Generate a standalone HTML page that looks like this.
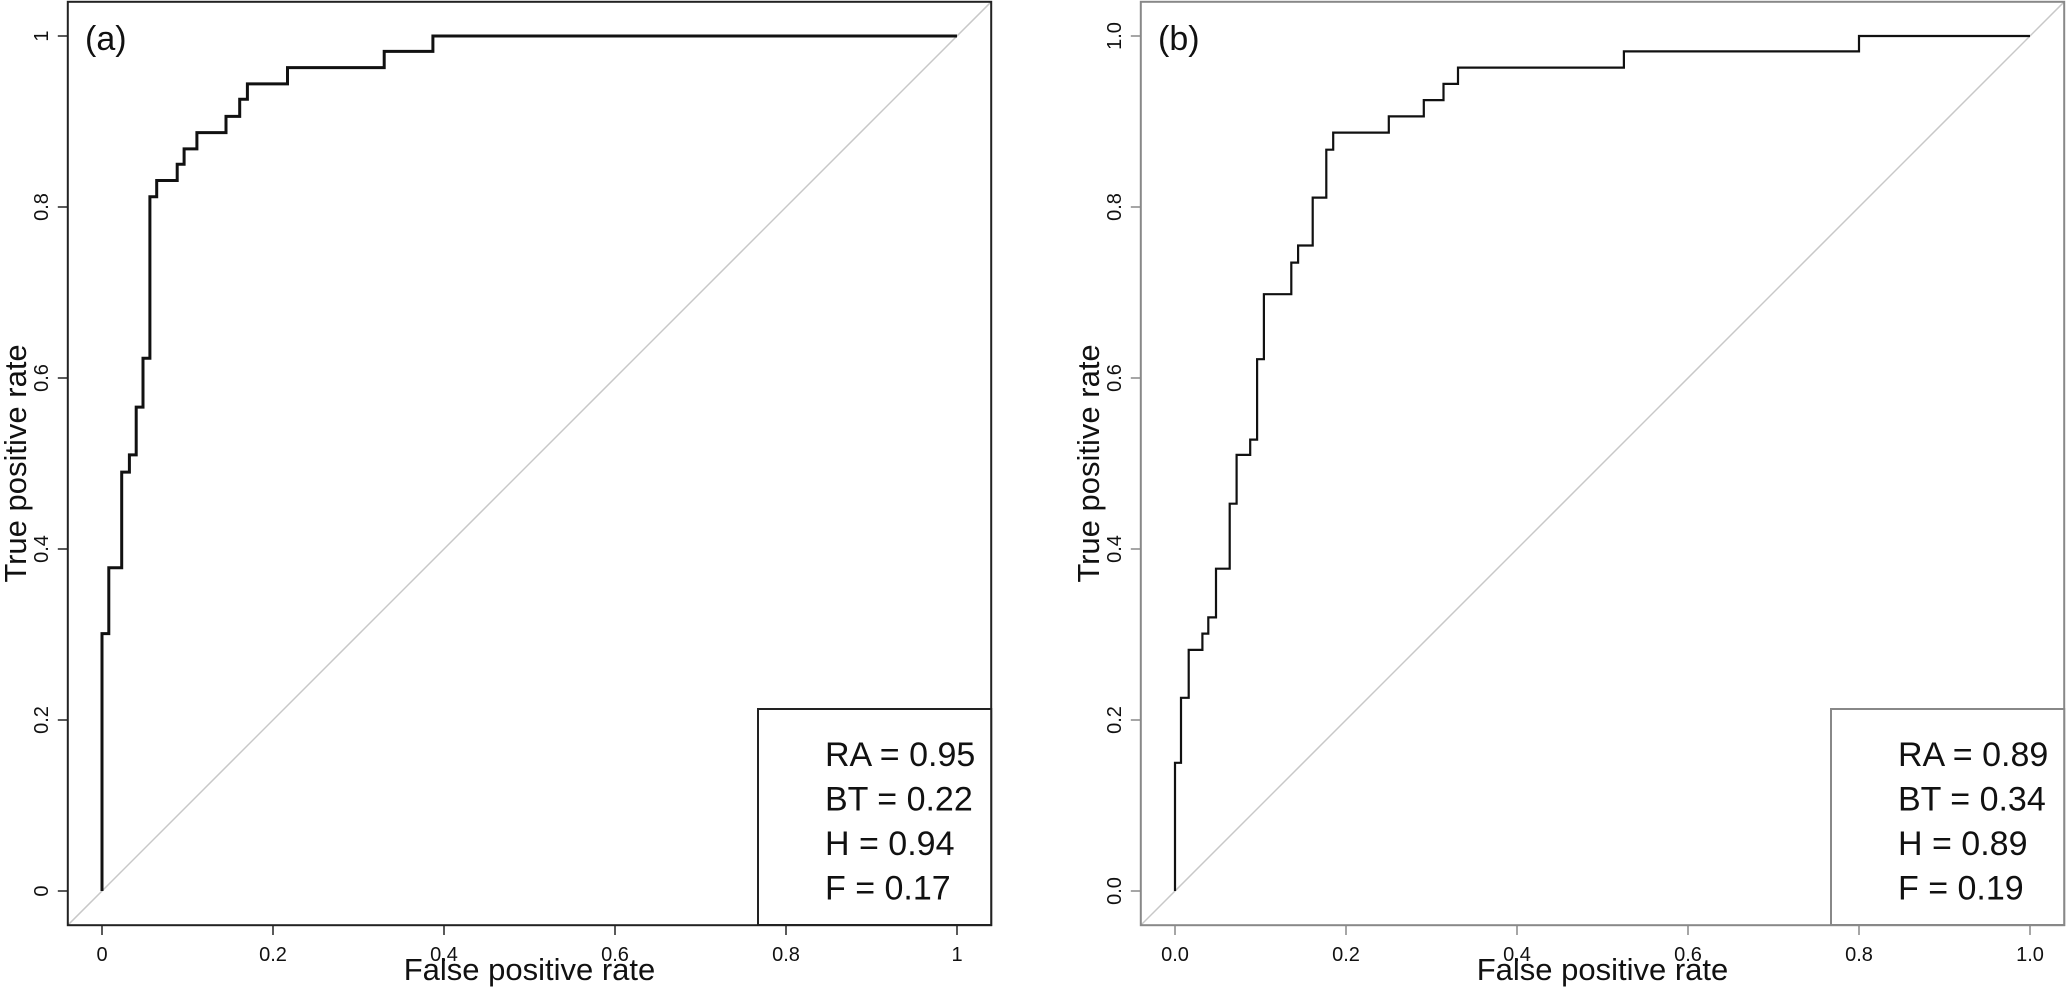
<!DOCTYPE html>
<html><head><meta charset="utf-8"><style>
html,body{margin:0;padding:0;background:#fff;}
svg{display:block;font-family:"Liberation Sans",sans-serif;}
</style></head><body>
<svg id="chart" width="2067" height="988" viewBox="0 0 2067 988" xmlns="http://www.w3.org/2000/svg"></svg>
<script>
// Panel (a) ROC vertices
const fprA = [0,0,0.008,0.008,0.023,0.023,0.032,0.032,0.040,0.040,0.048,0.048,0.056,0.056,0.064,0.064,0.088,0.088,0.096,0.096,0.111,0.111,0.145,0.145,0.161,0.161,0.170,0.170,0.217,0.217,0.330,0.330,0.387,0.387,1];
const tprA = [0,0.301,0.301,0.378,0.378,0.490,0.490,0.510,0.510,0.566,0.566,0.623,0.623,0.812,0.812,0.831,0.831,0.850,0.850,0.868,0.868,0.887,0.887,0.906,0.906,0.926,0.926,0.944,0.944,0.963,0.963,0.982,0.982,1,1];
// Panel (b) ROC vertices
const fprB = [0,0,0.007,0.007,0.016,0.016,0.032,0.032,0.039,0.039,0.048,0.048,0.064,0.064,0.072,0.072,0.088,0.088,0.096,0.096,0.104,0.104,0.136,0.136,0.144,0.144,0.161,0.161,0.177,0.177,0.185,0.185,0.250,0.250,0.291,0.291,0.314,0.314,0.331,0.331,0.525,0.525,0.800,0.800,1];
const tprB = [0,0.150,0.150,0.226,0.226,0.282,0.282,0.301,0.301,0.320,0.320,0.377,0.377,0.453,0.453,0.510,0.510,0.528,0.528,0.622,0.622,0.698,0.698,0.735,0.735,0.755,0.755,0.811,0.811,0.867,0.867,0.887,0.887,0.906,0.906,0.925,0.925,0.944,0.944,0.963,0.963,0.982,0.982,1,1];
const xTicksA = ["0","0.2","0.4","0.6","0.8","1"];
const yTicksA = ["0","0.2","0.4","0.6","0.8","1"];
const xTicksB = ["0.0","0.2","0.4","0.6","0.8","1.0"];
const yTicksB = ["0.0","0.2","0.4","0.6","0.8","1.0"];
const statsA = ["RA = 0.95","BT = 0.22","H = 0.94","F = 0.17"];
const statsB = ["RA = 0.89","BT = 0.34","H = 0.89","F = 0.19"];

const NS = "http://www.w3.org/2000/svg";
const svg = document.getElementById("chart");
function mk(tag, attrs, parent, text){
  const e = document.createElementNS(NS, tag);
  for (const k in attrs) e.setAttribute(k, attrs[k]);
  if (text !== undefined) e.textContent = text;
  parent.appendChild(e);
  return e;
}
const U = 855, Y0 = 891;
function panel(off, fpr, tpr, xt, yt, stats, label, boxCol, lw, id){
  const X0 = 102 + off;
  const sx = v => X0 + v*U;
  const sy = v => Y0 - v*U;
  const g = mk("g", {}, svg);
  
  
  const d = mk("line", {x1:sx(-0.04), y1:sy(-0.04), x2:sx(1.04), y2:sy(1.04), stroke:"#c8c8c8", "stroke-width":1.5}, g);
  
  
  let pts = fpr.map((f,i)=> sx(f).toFixed(1)+","+sy(tpr[i]).toFixed(1)).join(" ");
  const c = mk("polyline", {points:pts, fill:"none", stroke:"#111", "stroke-width":lw, "stroke-linejoin":"miter"}, g);
  
  
  const b = mk("rect", {x:sx(-0.04), y:sy(1.04), width:1.08*U, height:1.08*U, fill:"none", stroke:boxCol, "stroke-width":2}, g);
  
  
  xt.forEach((t,i)=>{
    const v = i*0.2;
    const tk = mk("line", {x1:sx(v), y1:925, x2:sx(v), y2:935, stroke:boxCol, "stroke-width":1.5}, g);
    
    
    const tl = mk("text", {x:sx(v), y:961, "font-size":20, "text-anchor":"middle", fill:"#111"}, g, t);
    
    
  });
  yt.forEach((t,i)=>{
    const v = i*0.2;
    const X = sx(-0.04);
    const tk = mk("line", {x1:X-10, y1:sy(v), x2:X, y2:sy(v), stroke:boxCol, "stroke-width":1.5}, g);
    
    
    const tl = mk("text", {x:0, y:0, "font-size":20, "text-anchor":"middle", fill:"#111", transform:`translate(${X-20},${sy(v)}) rotate(-90)`}, g, t);
    
    
  });
  const xl = mk("text", {x:sx(0.5), y:980, "font-size":31, "text-anchor":"middle", fill:"#111"}, g, "False positive rate");
  
  
  const yl = mk("text", {x:0, y:0, "font-size":31, "text-anchor":"middle", fill:"#111", transform:`translate(${off+26},${sy(0.5)}) rotate(-90)`}, g, "True positive rate");
  
  
  const pl = mk("text", {x:off+85, y:50, "font-size":34, fill:"#111"}, g, label);
  
  
  const lg = mk("rect", {x:off+758, y:709, width:sx(1.04)-(off+758), height:216, fill:"#fff", stroke:boxCol, "stroke-width":2}, g);
  
  
  stats.forEach((s,i)=>{
    const t = mk("text", {x:off+825, y:766+i*44.5, "font-size":34, fill:"#111"}, g, s);
    
    
  });
}
panel(0, fprA, tprA, xTicksA, yTicksA, statsA, "(a)", "#222", 3, "a");
panel(1073, fprB, tprB, xTicksB, yTicksB, statsB, "(b)", "#888", 2.2, "b");
</script>
</body></html>
